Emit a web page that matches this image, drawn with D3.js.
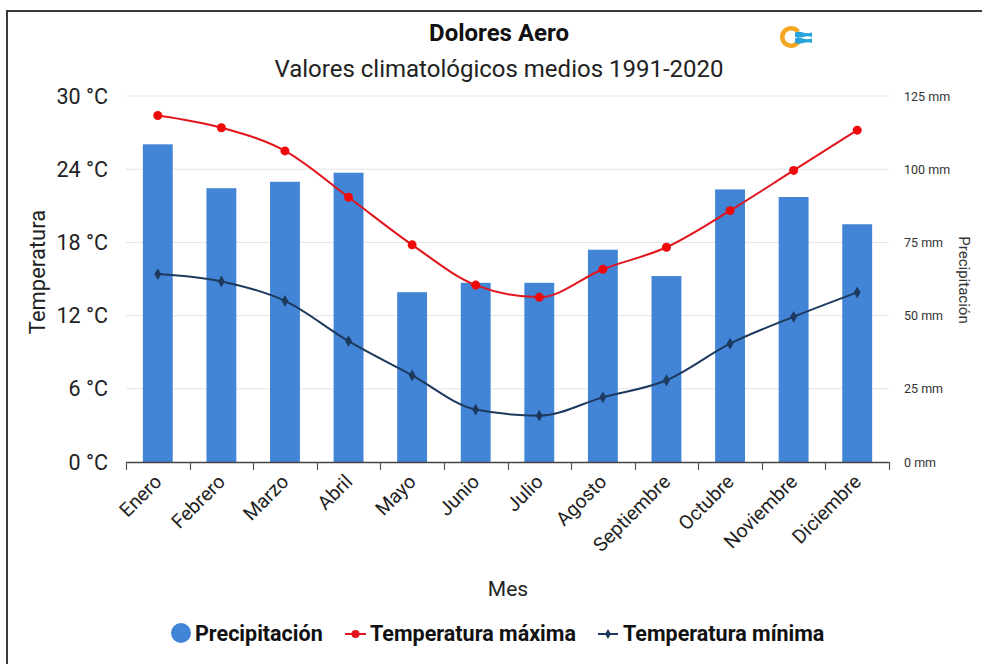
<!DOCTYPE html>
<html>
<head>
<meta charset="utf-8">
<script src="https://cdn.jsdelivr.net/npm/d3@7"></script>
<style>
  html, body { margin: 0; padding: 0; background: #fff; }
  svg { display: block; font-family: Roboto, "Noto Sans", sans-serif; }
</style>
</head>
<body>
<svg id="chart" width="982" height="664"></svg>
<script>
const months = ["Enero","Febrero","Marzo","Abril","Mayo","Junio","Julio","Agosto","Septiembre","Octubre","Noviembre","Diciembre"];
const precipitacion = [108.5, 93.5, 95.7, 98.8, 58.0, 61.2, 61.2, 72.5, 63.5, 93.1, 90.5, 81.2];
const tempMax = [28.4, 27.4, 25.5, 21.7, 17.8, 14.5, 13.5, 15.8, 17.6, 20.6, 23.9, 27.2];
const tempMin = [15.4, 14.8, 13.2, 9.9, 7.1, 4.3, 3.8, 5.3, 6.7, 9.7, 11.9, 13.9];
const tempTicks = [0, 6, 12, 18, 24, 30];
const precTicks = [0, 25, 50, 75, 100, 125];

(function () {
const svg = d3.select("#chart");
const W = 982, H = 664;
const pL = 126, pR = 889, pT = 96, pB = 462;

const colBar = "#4285d6", colMax = "#e3141b", colMin = "#1d3a5e";

// frame
svg.append("line").attr("x1", 7).attr("x2", 7).attr("y1", 11).attr("y2", H).attr("stroke", "#3a3a3a").attr("stroke-width", 2);
svg.append("line").attr("x1", 6).attr("x2", W).attr("y1", 11).attr("y2", 11).attr("stroke", "#3a3a3a").attr("stroke-width", 2);

const x = d3.scaleBand().domain(months).range([pL, pR]).padding(0);
const yT = d3.scaleLinear().domain([0, 30]).range([pB, pT]);
const yP = d3.scaleLinear().domain([0, 125]).range([pB, pT]);
const cx = i => x(months[i]) + x.bandwidth() / 2;

// gridlines
svg.append("g").selectAll("line").data(tempTicks.filter(d => d > 0)).join("line")
  .attr("x1", pL).attr("x2", pR)
  .attr("y1", d => yT(d)).attr("y2", d => yT(d))
  .attr("stroke", "#e3e3e3").attr("stroke-width", 1);

// left axis labels
svg.append("g").selectAll("text").data(tempTicks).join("text")
  .attr("x", 108).attr("y", d => yT(d) + 7.5)
  .attr("text-anchor", "end").attr("font-size", 21.5).attr("fill", "#222")
  .text(d => d + " °C");

// right axis labels
svg.append("g").selectAll("text").data(precTicks).join("text")
  .attr("x", 904).attr("y", d => yP(d) + 4.5)
  .attr("text-anchor", "start").attr("font-size", 12.5).attr("fill", "#333")
  .text(d => d + " mm");

// bars
const bw = x.bandwidth() * 0.47;
svg.append("g").selectAll("rect").data(precipitacion).join("rect")
  .attr("x", (d, i) => cx(i) - bw / 2)
  .attr("width", bw)
  .attr("y", d => yP(d))
  .attr("height", d => yP(0) - yP(d))
  .attr("fill", colBar);

// x axis baseline and ticks
const xAxis = svg.append("g");
xAxis.append("line").attr("x1", pL).attr("x2", pR).attr("y1", pB + 0.5).attr("y2", pB + 0.5).attr("stroke", "#444").attr("stroke-width", 1.5);
const bounds = months.map(m => x(m)).concat([x(months[11]) + x.bandwidth()]);
xAxis.selectAll("line.tk").data(bounds).join("line").attr("class", "tk")
  .attr("x1", d => Math.round(d) + 0.5).attr("x2", d => Math.round(d) + 0.5)
  .attr("y1", pB).attr("y2", pB + 8)
  .attr("stroke", "#555").attr("stroke-width", 1.2);

xAxis.selectAll("text").data(months).join("text")
  .attr("transform", (d, i) => `translate(${cx(i) + 5},${pB + 21}) rotate(-45)`)
  .attr("text-anchor", "end").attr("font-size", 19.5).attr("fill", "#222")
  .text(d => d);

// lines
const lineT = d3.line().x((d, i) => cx(i)).y(d => yT(d)).curve(d3.curveMonotoneX);
svg.append("path").datum(tempMax).attr("d", lineT).attr("fill", "none").attr("stroke", colMax).attr("stroke-width", 2);
svg.append("path").datum(tempMin).attr("d", lineT).attr("fill", "none").attr("stroke", colMin).attr("stroke-width", 2);

svg.append("g").selectAll("circle").data(tempMax).join("circle")
  .attr("cx", (d, i) => cx(i)).attr("cy", d => yT(d))
  .attr("r", 4.5).attr("fill", "#ee0a0a");

const diamond = d3.symbol().type(d3.symbolDiamond).size(40);
svg.append("g").selectAll("path").data(tempMin).join("path")
  .attr("transform", (d, i) => `translate(${cx(i)},${yT(d)})`)
  .attr("d", diamond).attr("fill", colMin);

// titles
svg.append("text").attr("x", 499).attr("y", 41).attr("text-anchor", "middle")
  .attr("font-size", 24).attr("font-weight", "bold").attr("fill", "#111").text("Dolores Aero");
svg.append("text").attr("x", 499).attr("y", 77).attr("text-anchor", "middle")
  .attr("font-size", 24).attr("fill", "#222").text("Valores climatológicos medios 1991-2020");

// axis titles
svg.append("text").attr("transform", "translate(45,272) rotate(-90)").attr("text-anchor", "middle")
  .attr("font-size", 22).attr("fill", "#222").text("Temperatura");
svg.append("text").attr("transform", "translate(959,280) rotate(90)").attr("text-anchor", "middle")
  .attr("font-size", 15).attr("fill", "#333").text("Precipitación");
svg.append("text").attr("x", 508).attr("y", 596).attr("text-anchor", "middle")
  .attr("font-size", 21).attr("fill", "#222").text("Mes");

// legend
const lg = svg.append("g").attr("font-size", 21.5).attr("font-weight", "bold").attr("fill", "#111");
lg.append("circle").attr("cx", 181).attr("cy", 633).attr("r", 10).attr("fill", colBar);
lg.append("text").attr("x", 195).attr("y", 641).text("Precipitación");
lg.append("line").attr("x1", 345).attr("x2", 366).attr("y1", 634).attr("y2", 634).attr("stroke", colMax).attr("stroke-width", 2);
lg.append("circle").attr("cx", 355.5).attr("cy", 634).attr("r", 4).attr("fill", colMax);
lg.append("text").attr("x", 370).attr("y", 641).text("Temperatura máxima");
lg.append("line").attr("x1", 598).attr("x2", 618).attr("y1", 634).attr("y2", 634).attr("stroke", colMin).attr("stroke-width", 2);
lg.append("path").attr("transform", "translate(608,634)").attr("d", d3.symbol().type(d3.symbolDiamond).size(30)).attr("fill", colMin);
lg.append("text").attr("x", 623).attr("y", 641).text("Temperatura mínima");

// logo
const logo = svg.append("g").attr("transform", "translate(791,37)");
logo.append("path").attr("d", d3.arc().innerRadius(6.5).outerRadius(11).startAngle(Math.PI * 0.7).endAngle(Math.PI * 2.3)()).attr("fill", "#f5a623");
logo.append("path").attr("d", "M4,-4.5 q4,-1.5 8,0 t9,0 v4.5 q-4,-1.5 -9,0 t-8,0 z").attr("fill", "#27a3dd");
logo.append("path").attr("d", "M4,1.5 q4,-1.5 8,0 t9,0 v4.5 q-4,-1.5 -9,0 t-8,0 z").attr("fill", "#27a3dd");
})();
</script>
</body>
</html>
